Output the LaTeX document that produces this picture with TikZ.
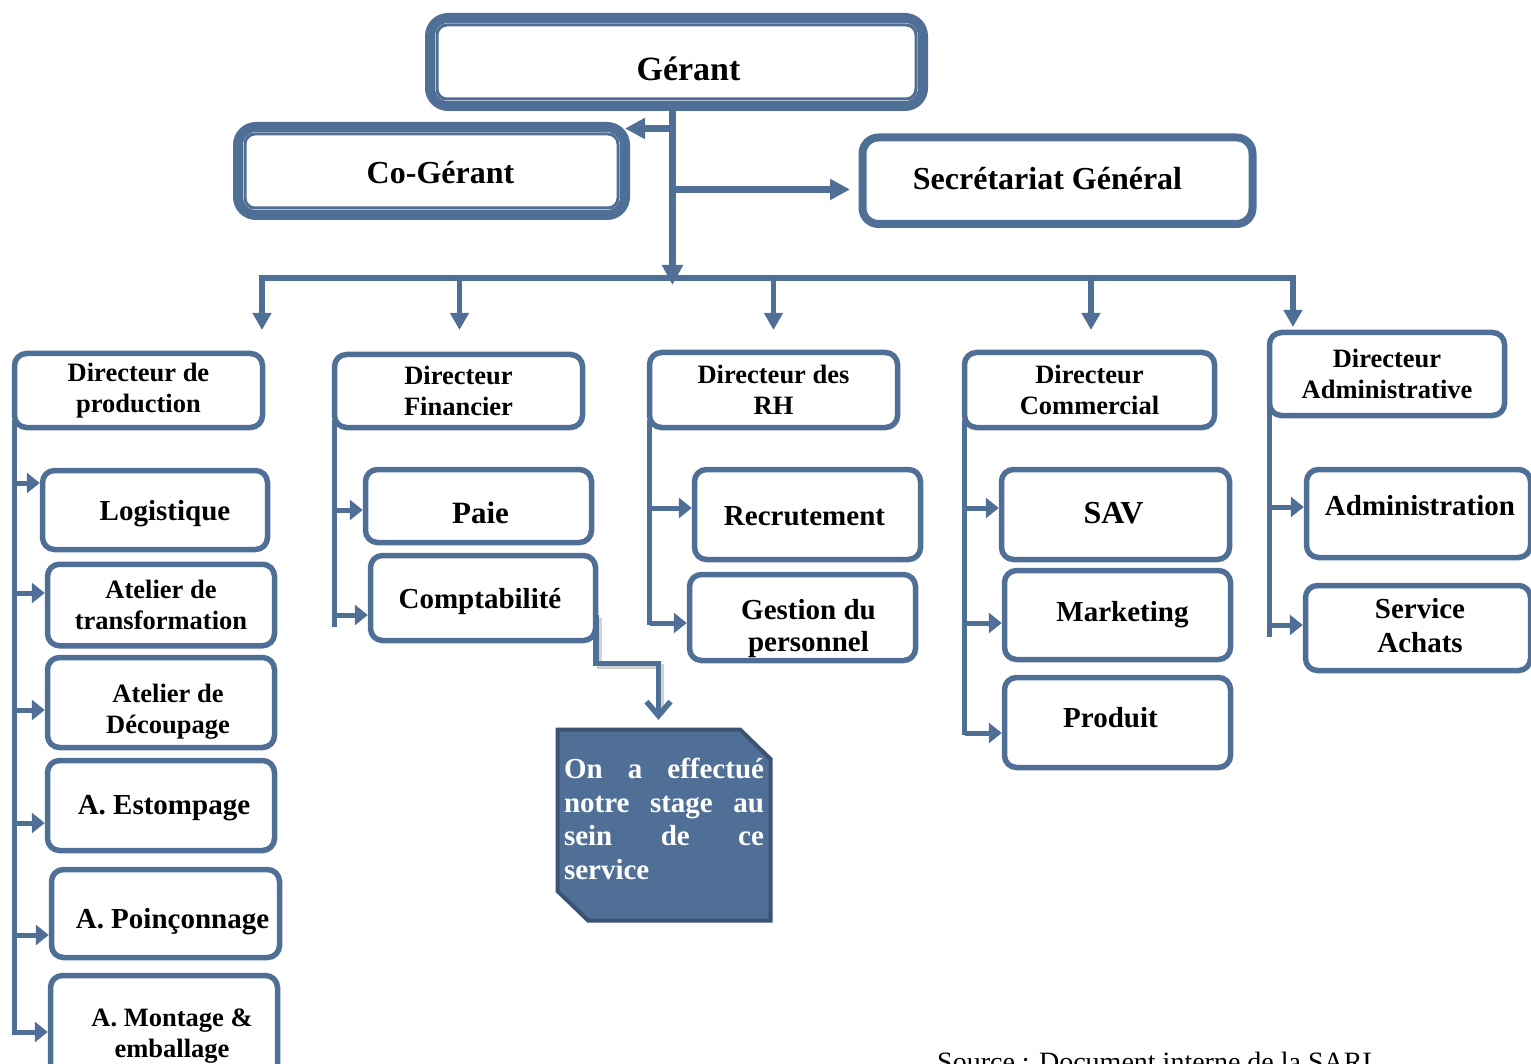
\documentclass[tikz,border=0pt]{standalone}
\usepackage{fontspec}
\setmainfont{Liberation Serif}
\usetikzlibrary{arrows.meta,backgrounds,calc}
\definecolor{bc}{RGB}{80,111,150}
\definecolor{nb}{RGB}{59,82,114}
% shifted text: #1 = twice the shift to the right, #2 = raise (negative lowers)
\newcommand\ts[3]{\hspace*{#1}\raisebox{#2}[\height][\depth]{\begin{tabular}{@{}c@{}}#3\end{tabular}}}
\tikzset{
 base/.style={draw=bc, fill=white, rounded corners=12pt, inner sep=0pt, align=center},
 sz/.style 2 args={minimum width=#1pt, minimum height=#2pt},
 dirbox/.style={base, line width=5.5pt, font=\bfseries\fontsize{26.5}{30.5}\selectfont},
 subbox/.style={base, line width=5.5pt, font=\bfseries\fontsize{29}{33}\selectfont},
 subsm/.style={base, line width=5.5pt, font=\bfseries\fontsize{26.5}{31}\selectfont},
 topbox/.style={base, line width=10pt, rounded corners=18pt, font=\bfseries\fontsize{32}{36}\selectfont},
 innerline/.style={draw=bc, line width=3pt, rounded corners=10pt},
 conn/.style={draw=bc, line width=5.5pt},
 arrT/.style={draw=bc, line width=6.5pt, -{Triangle[length=20pt,width=20pt]}},
 arrD/.style={draw=bc, line width=5.5pt, -{Triangle[length=17pt,width=18pt]}},
 arrC/.style={draw=bc, line width=5pt, -{Triangle[length=13pt,width=20pt]}},
 notetxt/.style={text=white, font=\bfseries\fontsize{29}{33.5}\selectfont, text width=200pt, align=left, minimum width=213pt, minimum height=191pt, inner sep=0pt},
}
\begin{document}
\begin{tikzpicture}[x=1pt,y=-1pt]
\useasboundingbox (0,0) rectangle (1531,1064);
\begin{scope}[on background layer]
 \fill[white] (0,0) rectangle (1531,1064);
 \filldraw[fill=bc, draw=nb, line width=4pt] (557.5,729.5) -- (740,729.5) -- (770.5,759) -- (770.5,920.5) -- (588,920.5) -- (557.5,891) -- cycle;
\end{scope}

% top level
\node[topbox, sz={493}{88}, font=\bfseries\fontsize{34}{38}\selectfont] (ger) at (676.5,62) {\ts{24pt}{-11pt}{Gérant}};
\draw[innerline] ($(ger.north west)+(12,12)$) rectangle ($(ger.south east)+(-12,-12)$);
\node[topbox, sz={387}{88}] (cog) at (431.5,171) {\ts{18pt}{-5pt}{Co-Gérant}};
\draw[innerline] ($(cog.north west)+(12,12)$) rectangle ($(cog.south east)+(-12,-12)$);
\node[base, line width=8pt, rounded corners=16pt, sz={390}{86.5}, font=\bfseries\fontsize{32}{36}\selectfont] (sec) at (1057.5,180.75) {\ts{-20pt}{-2pt}{Secrétariat Général}};

% directors
\node[dirbox, sz={248}{74}] (dprod) at (138.5,390.5) {Directeur de\\production};
\node[dirbox, sz={248}{73}] (dfin) at (458.5,391) {Directeur\\Financier};
\node[dirbox, sz={248}{75}] (drh) at (773.5,390) {Directeur des\\RH};
\node[dirbox, sz={250}{75}] (dcom) at (1089.5,390) {Directeur\\Commercial};
\node[dirbox, sz={235}{83}] (dadm) at (1387,374) {Directeur\\Administrative};

% production
\node[subbox, sz={225}{79}] (log) at (155,510) {\ts{20pt}{-4pt}{Logistique}};
\node[subsm, sz={227}{81.5}] (atr) at (161,605) {Atelier de\\transformation};
\node[subsm, sz={227}{90}] (adec) at (161,702.5) {\ts{14pt}{-9pt}{Atelier de\\Découpage}};
\node[subbox, sz={227}{90}] (aest) at (161,805.5) {\ts{6pt}{-2pt}{A. Estompage}};
\node[subbox, sz={228}{88}] (apoi) at (165.5,913.5) {\ts{14pt}{-8pt}{A. Poinçonnage}};
\node[subsm, sz={227}{113}] (amon) at (164,1032) {\ts{16pt}{-4pt}{A. Montage \&\\emballage}};

% financier
\node[subbox, sz={226}{73}, font=\bfseries\fontsize{31}{35}\selectfont] (paie) at (478.5,506) {\ts{4pt}{-10pt}{Paie}};
\node[subbox, sz={225}{85}] (comp) at (483,598) {\ts{-6pt}{-4pt}{Comptabilité}};

% RH
\node[subbox, sz={226}{90}] (recr) at (807.5,514.5) {\ts{-6pt}{-4pt}{Recrutement}};
\node[subbox, sz={226}{86}, font=\bfseries\fontsize{29}{32}\selectfont] (gest) at (802.5,617.5) {\ts{12pt}{-12pt}{Gestion du\\personnel}};

% commercial
\node[subbox, sz={228}{90}, font=\bfseries\fontsize{32}{36}\selectfont] (sav) at (1115.5,514.5) {\ts{-4pt}{-2pt}{SAV}};
\node[subbox, sz={226}{89}] (mark) at (1117.5,615) {\ts{10pt}{0pt}{Marketing}};
\node[subbox, sz={226}{90}] (prod) at (1117.5,722.5) {\ts{-14pt}{2pt}{Produit}};

% administrative
\node[subbox, sz={224}{88}] (admi) at (1418.5,513.5) {\ts{3pt}{5pt}{Administration}};
\node[subbox, sz={225}{85}, font=\bfseries\fontsize{29}{34}\selectfont] (achat) at (1418,628) {\ts{4pt}{-1pt}{Service\\Achats}};

% note
\node[notetxt] (note) at (664,819) {On\hfill a\hfill effectué\\notre\hfill stage\hfill au\\sein\hfill de\hfill ce\\service};

% source (cut off at the bottom, as in the original)
\node[anchor=base west, inner sep=0pt, font=\fontsize{28}{30}\selectfont] (src) at (937,1071) {Source : Document interne de la SARL};

% top connectors
\coordinate (tr) at (672.5,285);
\draw[arrT] (ger.south -| tr) -- (tr);
\coordinate (cga) at (625,128.5);
\draw[arrT] (tr |- cga) -- (cga);
\coordinate (sga) at (850,189.5);
\draw[arrT] (tr |- sga) -- (sga);
\draw[conn, line width=6pt] (259,278.5) -- (1296,278.5);
\draw[arrD] (262,278.5) -- (262,330);
\draw[arrD] (459.5,278.5) -- (459.5,330);
\draw[arrD] (773.5,278.5) -- (773.5,330);
\draw[arrD] (1091,278.5) -- (1091,330);
\draw[arrD] (1293,278.5) -- (1293,327);

% production column
\draw[arrC] (14.5,420) -- (14.5,1032) -- (amon.west |- 0,1032);
\draw[arrC] (14.5,483) -- (log.west |- 0,483);
\draw[arrC] (14.5,593) -- (atr.west |- 0,593);
\draw[arrC] (14.5,710) -- (adec.west |- 0,710);
\draw[arrC] (14.5,823) -- (aest.west |- 0,823);
\draw[arrC] (14.5,935) -- (apoi.west |- 0,935);

% financier column
\draw[conn, line width=5pt] (334.5,420) -- (334.5,627);
\draw[arrC] (334.5,510) -- (paie.west |- 0,510);
\draw[arrC] (334.5,615) -- (comp.west |- 0,615);

% RH column
\draw[conn, line width=5pt] (649.5,420) -- (649.5,625);
\draw[arrC] (649.5,508) -- (recr.west |- 0,508);
\draw[arrC] (649.5,623) -- (gest.west |- 0,623);

% commercial column
\draw[conn, line width=5pt] (964.5,420) -- (964.5,735);
\draw[arrC] (964.5,508) -- (sav.west |- 0,508);
\draw[arrC] (964.5,623) -- (mark.west |- 0,623);
\draw[arrC] (964.5,733) -- (prod.west |- 0,733);

% administrative column
\draw[conn, line width=5pt] (1269.5,405) -- (1269.5,637);
\draw[arrC] (1269.5,507) -- (admi.west |- 0,507);
\draw[arrC] (1269.5,625) -- (achat.west |- 0,625);

% comptabilite -> note
\draw[gray!35, line width=5pt, xshift=3pt, yshift=-3pt] (596,615) -- (596,663.5) -- (658.5,663.5) -- (658.5,712);
\draw[bc, line width=5.5pt, -{Straight Barb[length=14pt,width=24pt]}, shorten >=3.5pt] (596,615) -- (596,663.5) -- (658.5,663.5) -- (note.north -| 658.5,0);
\end{tikzpicture}
\end{document}
